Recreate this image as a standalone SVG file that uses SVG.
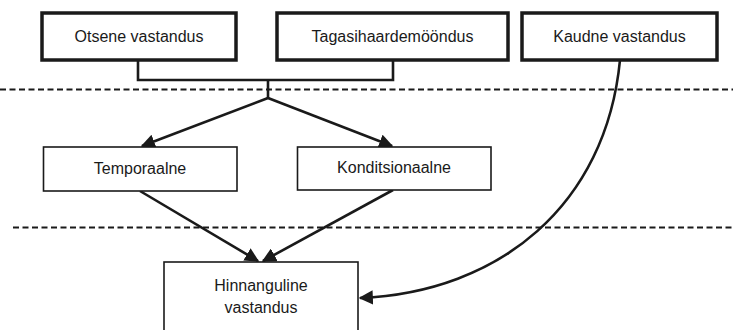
<svg xmlns="http://www.w3.org/2000/svg" width="733" height="330" viewBox="0 0 733 330">
<style>
text{font-family:"Liberation Sans",Arial,sans-serif;font-size:16px;fill:#1a1a1a;text-anchor:middle}
.top{fill:#fff;stroke:#1a1a1a;stroke-width:3.5}
.mid{fill:#fff;stroke:#1a1a1a;stroke-width:1.6}
.c{fill:none;stroke:#1a1a1a;stroke-width:2.6}
.dash{fill:none;stroke:#1a1a1a;stroke-width:1.8;stroke-dasharray:6 3.5}
</style>
<defs>
<marker id="ah" viewBox="0 0 10 10" refX="9" refY="5" markerWidth="5.5" markerHeight="5.5" orient="auto" markerUnits="strokeWidth">
<path d="M0,0 L10,5 L0,10 z" fill="#1a1a1a"/>
</marker>
</defs>
<rect width="733" height="330" fill="#fff"/>
<g id="separators">
<line class="dash" x1="0" y1="89.5" x2="733" y2="89.5"/>
<line class="dash" x1="13" y1="227.5" x2="733" y2="227.5"/>
</g>
<g id="connectors">
<path class="c" d="M138,60 V80 H393 V60"/>
<path class="c" d="M268,80 V98"/>
<path class="c" d="M268,98 L142,146" marker-end="url(#ah)"/>
<path class="c" d="M268,98 L392,146" marker-end="url(#ah)"/>
<path class="c" d="M140,191 L258,261" marker-end="url(#ah)"/>
<path class="c" d="M393,190 L263,261" marker-end="url(#ah)"/>
<path class="c" d="M620,60 C606,205 500,292 360,298" marker-end="url(#ah)"/>
</g>
<g id="otsene">
<rect class="top" x="42" y="13" width="194" height="47"/>
<text x="139" y="42">Otsene vastandus</text>
</g>
<g id="tagasihaardemooondus">
<rect class="top" x="277" y="13" width="231" height="47"/>
<text x="392.5" y="42">Tagasihaardemööndus</text>
</g>
<g id="kaudne">
<rect class="top" x="522" y="13" width="195" height="47"/>
<text x="619.5" y="42">Kaudne vastandus</text>
</g>
<g id="temporaalne">
<rect class="mid" x="43.5" y="147" width="193.5" height="44"/>
<text x="140" y="174">Temporaalne</text>
</g>
<g id="konditsionaalne">
<rect class="mid" x="297.5" y="147" width="193.5" height="43"/>
<text x="394" y="173">Konditsionaalne</text>
</g>
<g id="hinnanguline">
<rect class="mid" x="164" y="262" width="194" height="80"/>
<text x="261" y="291">Hinnanguline</text>
<text x="261" y="313">vastandus</text>
</g>
</svg>
